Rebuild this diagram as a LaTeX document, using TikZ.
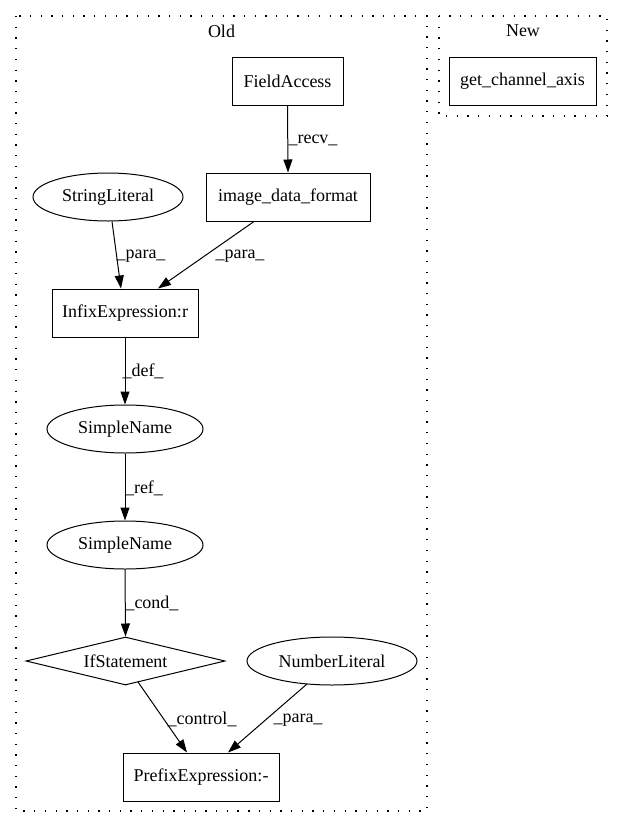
\documentclass[tikz,border=0pt]{standalone}
\usepackage{fontspec}
\setmainfont{Liberation Serif}
\usetikzlibrary{shapes.geometric,arrows.meta,calc}
\tikzset{
  base/.style={draw=black,line width=1pt,inner sep=0pt,font=\fontsize{18}{22}\selectfont},
  rectbox/.style={base,rectangle},
  ellbox/.style={base,ellipse,minimum height=48pt},
  diabox/.style={base,diamond,aspect=4.15,minimum width=199pt,minimum height=48pt},
  edge/.style={line width=1pt,-{Triangle[length=13pt,width=9pt]}},
  elabel/.style={inner sep=0pt,font=\fontsize{18}{22}\selectfont},
  cluster/.style={line width=1.3pt,dash pattern=on 1.3pt off 9.4pt},
}
\begin{document}
\begin{tikzpicture}[x=1pt,y=1pt]
\useasboundingbox (0,0) rectangle (623,-828);
% clusters
\draw[cluster] (16,-16) rectangle (427,-811);
\draw[cluster] (439,-16) rectangle (607,-116);
\node[elabel] (oldlbl) at (221.5,-31) {Old};
\node[elabel] (newlbl) at (523,-31) {New};
% nodes
\node[rectbox,minimum width=111pt,minimum height=48pt] (fa) at (287.5,-81) {FieldAccess};
\node[rectbox,minimum width=147pt,minimum height=48pt] (gca) at (522.5,-81) {get\_channel\_axis};
\node[rectbox,minimum width=164pt,minimum height=48pt] (idf) at (288,-197) {image\_data\_format};
\node[ellbox,minimum width=150pt] (sl) at (108,-197) {StringLiteral};
\node[rectbox,minimum width=146pt,minimum height=48pt] (infix) at (125,-313) {InfixExpression:r};
\node[ellbox,minimum width=156pt] (sn1) at (125,-429) {SimpleName};
\node[ellbox,minimum width=156pt] (sn2) at (125,-545) {SimpleName};
\node[diabox] (ifs) at (125.5,-661) {IfStatement};
\node[ellbox,minimum width=170pt] (nl) at (332,-661) {NumberLiteral};
\node[rectbox,minimum width=156pt,minimum height=48pt] (pre) at (201,-777) {PrefixExpression:-};
% edges
\draw[edge] (fa.south) -- (idf.north);
\node[elabel] (l1) at (313,-140) {\_recv\_};
\draw[edge] ($(sl.south)+(4,0)$) -- ($(infix.north)+(-4,0)$);
\node[elabel] (l2) at (141,-256) {\_para\_};
\draw[edge] ($(idf.south)+(-34,0)$) -- ($(infix.north)+(33,0)$);
\node[elabel] (l3) at (240,-256) {\_para\_};
\draw[edge] (infix.south) -- (sn1.north);
\node[elabel] (l4) at (143,-371) {\_def\_};
\draw[edge] (sn1.south) -- (sn2.north);
\node[elabel] (l5) at (144,-488) {\_ref\_};
\draw[edge] (sn2.south) -- (ifs.north);
\node[elabel] (l6) at (152,-603) {\_cond\_};
\draw[edge] ($(ifs.center)+(12.5,-21)$) -- ($(pre.north)+(-14,0)$);
\node[elabel] (l7) at (202,-719) {\_control\_};
\draw[edge] ($(nl.center)+(-25,-23)$) -- ($(pre.north)+(27,0)$);
\node[elabel] (l8) at (298,-720) {\_para\_};
\end{tikzpicture}
\end{document}
